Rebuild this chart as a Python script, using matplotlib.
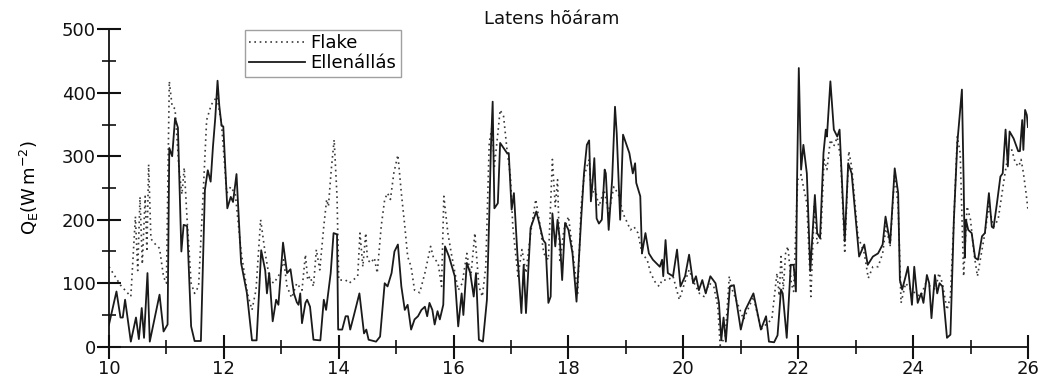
import matplotlib
matplotlib.use("Agg")
import matplotlib.pyplot as plt
from matplotlib.ticker import MultipleLocator

plt.rcParams["font.family"] = ["DejaVu Sans"]
plt.rcParams["mathtext.fontset"] = "custom"
plt.rcParams["mathtext.rm"] = "DejaVu Sans"
plt.rcParams["mathtext.it"] = "DejaVu Sans:italic"

# Day of month and latent heat flux (W m-2), resistance-method estimate
ell_day = [10.00, 10.13, 10.20, 10.24, 10.28, 10.38, 10.47, 10.52, 10.57, 10.61,
           10.67, 10.71, 10.88, 10.95, 11.02, 11.05, 11.10, 11.15, 11.20, 11.26,
           11.30, 11.36, 11.43, 11.49, 11.60, 11.67, 11.72, 11.77, 11.81, 11.85,
           11.89, 11.92, 11.96, 11.99, 12.06, 12.12, 12.16, 12.22, 12.30, 12.40,
           12.49, 12.57, 12.65, 12.72, 12.75, 12.79, 12.85, 12.91, 12.95, 13.03,
           13.10, 13.16, 13.22, 13.27, 13.30, 13.33, 13.36, 13.42, 13.45, 13.50,
           13.56, 13.68, 13.74, 13.78, 13.86, 13.91, 13.97, 13.99, 14.06, 14.12,
           14.16, 14.20, 14.26, 14.36, 14.44, 14.48, 14.52, 14.65, 14.72, 14.80,
           14.85, 14.92, 14.97, 15.03, 15.09, 15.15, 15.20, 15.26, 15.32, 15.38,
           15.44, 15.50, 15.54, 15.58, 15.63, 15.67, 15.72, 15.76, 15.82, 15.85,
           15.92, 16.02, 16.08, 16.14, 16.17, 16.23, 16.29, 16.35, 16.39, 16.44,
           16.51, 16.58, 16.62, 16.65, 16.68, 16.71, 16.77, 16.81, 16.93, 16.96,
           17.01, 17.05, 17.11, 17.18, 17.22, 17.26, 17.34, 17.44, 17.49, 17.56,
           17.60, 17.65, 17.69, 17.72, 17.77, 17.81, 17.85, 17.89, 17.94, 18.00,
           18.07, 18.14, 18.22, 18.27, 18.32, 18.36, 18.39, 18.42, 18.45, 18.49,
           18.53, 18.58, 18.63, 18.65, 18.70, 18.76, 18.81, 18.84, 18.90, 18.95,
           19.00, 19.06, 19.12, 19.16, 19.18, 19.25, 19.28, 19.34, 19.40, 19.47,
           19.59, 19.63, 19.65, 19.69, 19.73, 19.82, 19.89, 19.95, 20.03, 20.10,
           20.17, 20.22, 20.27, 20.33, 20.39, 20.47, 20.56, 20.62, 20.66, 20.70,
           20.74, 20.81, 20.88, 21.00, 21.08, 21.22, 21.35, 21.44, 21.49, 21.58,
           21.64, 21.70, 21.73, 21.80, 21.87, 21.92, 21.96, 21.98, 22.01, 22.05,
           22.09, 22.15, 22.21, 22.29, 22.33, 22.38, 22.44, 22.48, 22.50, 22.56,
           22.62, 22.68, 22.72, 22.81, 22.87, 22.93, 23.06, 23.15, 23.21, 23.30,
           23.39, 23.47, 23.52, 23.60, 23.68, 23.74, 23.77, 23.81, 23.87, 23.91,
           23.98, 24.02, 24.08, 24.14, 24.18, 24.24, 24.28, 24.32, 24.38, 24.42,
           24.46, 24.51, 24.59, 24.65, 24.71, 24.77, 24.85, 24.88, 24.90, 24.92,
           24.96, 25.02, 25.08, 25.13, 25.20, 25.25, 25.32, 25.37, 25.40, 25.46,
           25.52, 25.56, 25.61, 25.65, 25.68, 25.75, 25.83, 25.86, 25.90, 25.92,
           25.95, 25.98, 26.00]
ell_flux = [35, 87, 46, 46, 74, 8, 46, 12, 61, 14,
            116, 8, 82, 24, 35, 313, 300, 360, 345, 150,
            192, 190, 32, 9, 9, 247, 278, 260, 315, 360,
            419, 380, 348, 347, 218, 236, 228, 272, 132, 85,
            10, 10, 152, 120, 84, 116, 40, 74, 66, 164,
            116, 122, 84, 70, 66, 84, 37, 69, 74, 63,
            11, 10, 74, 58, 116, 179, 177, 27, 27, 48,
            48, 27, 48, 84, 21, 27, 11, 8, 16, 100,
            95, 116, 150, 161, 95, 58, 66, 27, 43, 48,
            58, 63, 48, 69, 58, 35, 56, 43, 66, 158,
            142, 111, 32, 84, 50, 132, 116, 79, 116, 11,
            8, 74, 205, 315, 386, 218, 226, 321, 305, 305,
            216, 242, 147, 53, 129, 53, 187, 213, 195, 168,
            163, 69, 79, 210, 158, 200, 168, 105, 195, 184,
            147, 71, 200, 273, 318, 325, 229, 260, 297, 202,
            194, 200, 279, 273, 184, 263, 378, 336, 200, 334,
            321, 305, 273, 289, 258, 237, 147, 179, 147, 137,
            126, 137, 111, 168, 116, 111, 153, 95, 111, 145,
            100, 111, 89, 105, 84, 111, 100, 69, 10, 46,
            8, 95, 97, 27, 58, 84, 27, 48, 8, 7,
            18, 90, 84, 14, 129, 129, 87, 263, 439, 279,
            318, 273, 119, 239, 179, 171, 305, 342, 331, 418,
            342, 331, 342, 166, 289, 273, 142, 161, 129, 142,
            147, 161, 205, 163, 281, 242, 105, 90, 111, 126,
            66, 126, 69, 84, 69, 113, 100, 45, 113, 84,
            100, 95, 14, 19, 200, 321, 405, 261, 140, 200,
            184, 179, 140, 137, 174, 179, 242, 189, 187, 226,
            268, 273, 342, 284, 339, 328, 308, 308, 357, 310,
            373, 365, 346]

# Day of month and latent heat flux (W m-2), FLake model
flake_day = [10.00, 10.20, 10.38, 10.46, 10.50, 10.54, 10.58, 10.63, 10.66, 10.69,
             10.73, 10.82, 10.88, 10.95, 11.00, 11.05, 11.10, 11.15, 11.22, 11.27,
             11.31, 11.36, 11.43, 11.49, 11.56, 11.64, 11.70, 11.78, 11.88, 11.96,
             12.05, 12.12, 12.20, 12.30, 12.41, 12.49, 12.56, 12.64, 12.72, 12.80,
             12.87, 12.98, 13.04, 13.10, 13.18, 13.27, 13.36, 13.42, 13.46, 13.50,
             13.56, 13.61, 13.67, 13.74, 13.79, 13.82, 13.87, 13.92, 13.97, 14.00,
             14.12, 14.18, 14.25, 14.33, 14.37, 14.42, 14.47, 14.50, 14.56, 14.62,
             14.67, 14.74, 14.80, 14.85, 14.90, 14.96, 15.03, 15.09, 15.15, 15.20,
             15.26, 15.32, 15.41, 15.50, 15.60, 15.65, 15.73, 15.79, 15.83, 15.90,
             15.96, 16.08, 16.15, 16.23, 16.30, 16.37, 16.44, 16.50, 16.56, 16.62,
             16.67, 16.71, 16.77, 16.81, 16.87, 16.93, 16.99, 17.03, 17.08, 17.12,
             17.19, 17.26, 17.34, 17.43, 17.49, 17.57, 17.65, 17.72, 17.77, 17.81,
             17.85, 17.92, 18.00, 18.07, 18.16, 18.22, 18.27, 18.36, 18.40, 18.46,
             18.53, 18.62, 18.70, 18.79, 18.87, 18.95, 19.00, 19.08, 19.14, 19.21,
             19.28, 19.37, 19.43, 19.52, 19.58, 19.63, 19.73, 19.82, 19.93, 20.02,
             20.10, 20.19, 20.28, 20.36, 20.45, 20.53, 20.60, 20.64, 20.73, 20.80,
             20.85, 20.94, 21.05, 21.22, 21.35, 21.46, 21.54, 21.63, 21.67, 21.70,
             21.74, 21.78, 21.82, 21.88, 21.92, 21.99, 22.05, 22.09, 22.15, 22.22,
             22.28, 22.33, 22.39, 22.45, 22.50, 22.56, 22.62, 22.68, 22.74, 22.81,
             22.88, 22.93, 23.04, 23.15, 23.22, 23.30, 23.39, 23.47, 23.53, 23.60,
             23.68, 23.74, 23.79, 23.87, 23.96, 24.04, 24.13, 24.22, 24.30, 24.39,
             24.45, 24.51, 24.59, 24.65, 24.71, 24.77, 24.82, 24.88, 24.94, 25.00,
             25.06, 25.12, 25.17, 25.25, 25.32, 25.40, 25.48, 25.54, 25.60, 25.66,
             25.72, 25.78, 25.84, 25.88, 25.92, 25.96, 26.00]
flake_flux = [126, 97, 79, 205, 120, 236, 130, 237, 150, 287,
              170, 160, 155, 110, 100, 418, 378, 375, 279, 240,
              282, 200, 100, 84, 95, 242, 357, 381, 394, 350,
              242, 252, 240, 150, 84, 58, 90, 200, 147, 105,
              100, 116, 137, 95, 77, 100, 89, 145, 105, 111,
              95, 153, 121, 190, 232, 221, 279, 326, 237, 105,
              105, 100, 105, 111, 179, 126, 179, 137, 132, 140,
              116, 190, 232, 242, 232, 274, 302, 242, 190, 142,
              126, 89, 85, 116, 158, 140, 132, 95, 237, 179,
              147, 89, 100, 147, 111, 179, 95, 79, 126, 321,
              347, 284, 336, 373, 363, 310, 268, 190, 147, 111,
              153, 116, 179, 232, 200, 147, 137, 295, 221, 263,
              132, 184, 205, 153, 84, 221, 268, 295, 237, 250,
              221, 247, 210, 252, 240, 210, 200, 184, 189, 179,
              147, 137, 116, 100, 95, 105, 105, 111, 74, 100,
              121, 100, 84, 79, 100, 95, 63, 2, 16, 111,
              90, 69, 43, 79, 27, 37, 43, 116, 80, 142,
              90, 147, 158, 100, 87, 263, 271, 252, 226, 79,
              221, 163, 168, 295, 279, 326, 316, 330, 295, 147,
              308, 284, 174, 147, 108, 126, 126, 147, 190, 158,
              273, 221, 69, 100, 90, 84, 79, 100, 95, 90,
              116, 100, 58, 79, 200, 331, 305, 111, 221, 200,
              147, 111, 137, 179, 221, 189, 200, 237, 273, 305,
              310, 289, 284, 295, 274, 247, 216]

x_ticks = [10, 12, 14, 16, 18, 20, 22, 24, 26]
y_ticks = [0, 100, 200, 300, 400, 500]

fig = plt.figure(figsize=(10.45, 3.87), dpi=100)
ax = fig.add_axes([0.1043, 0.1041, 0.8794, 0.8202])

ax.plot(flake_day, flake_flux, color="#3a3a3a", lw=1.2,
        linestyle=(0, (1, 2.2)), label="Flake")
ax.plot(ell_day, ell_flux, color="#1a1a1a", lw=1.3,
        linestyle="-", label="Ellenállás")

ax.set_xlim(10, 26)
ax.set_ylim(0, 500)
ax.set_xticks(x_ticks)
ax.set_yticks(y_ticks)
ax.xaxis.set_minor_locator(MultipleLocator(1))
ax.yaxis.set_minor_locator(MultipleLocator(50))

for side in ("top", "right"):
    ax.spines[side].set_visible(False)
for side in ("left", "bottom"):
    ax.spines[side].set_linewidth(1.3)
    ax.spines[side].set_color("#111111")

ax.tick_params(which="major", direction="inout", length=17, width=1.5,
               labelsize=13, colors="#111111", pad=1)
ax.tick_params(which="minor", direction="inout", length=10, width=1.2,
               colors="#111111")

ax.set_ylabel(r"$\mathrm{Q_E(W\,m^{-2})}$", fontsize=13, labelpad=15)

fig.text(0.528, 0.95, "Latens hõáram", fontsize=13, ha="center", va="center",
         color="#111111")

leg = ax.legend(loc="upper left", bbox_to_anchor=(0.1475, 0.998), fontsize=13,
                frameon=True, fancybox=False, handlelength=3.1,
                handletextpad=0.3, borderpad=0.25, labelspacing=0.1,
                borderaxespad=0)
leg.get_frame().set_edgecolor("#888888")
leg.get_frame().set_linewidth(1.0)

fig.savefig("out.png", dpi=100)
